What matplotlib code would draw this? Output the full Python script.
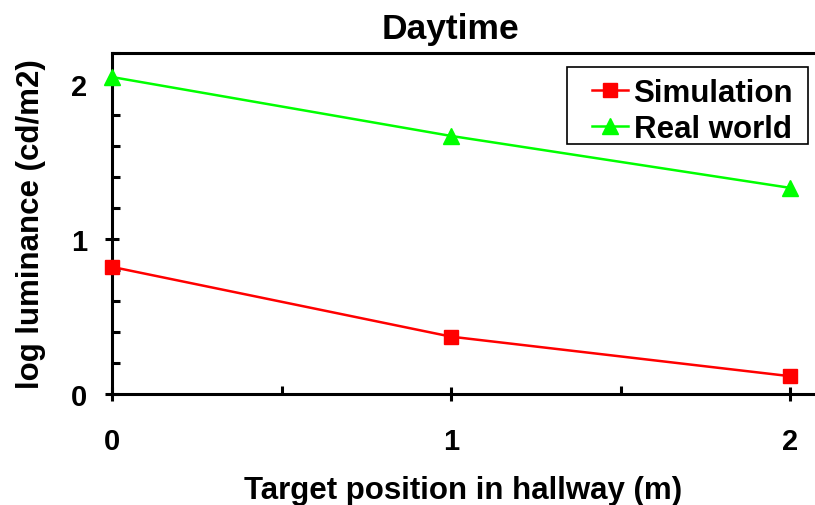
import matplotlib
matplotlib.use("Agg")
import matplotlib.pyplot as plt
from matplotlib.ticker import MultipleLocator
from matplotlib.patches import Rectangle

x_pos = [0, 1, 2]
simulation = [0.82, 0.37, 0.115]
real_world = [2.045, 1.665, 1.33]
x_ticks = [0, 1, 2]
y_ticks = [0, 1, 2]

plt.rcParams['font.family'] = ['Liberation Sans', 'DejaVu Sans']
plt.rcParams['font.weight'] = 'bold'

W, H = 815, 506
fig = plt.figure(figsize=(W/100, H/100), dpi=100)
ax = fig.add_axes([112/W, 111/H, 1 - 112/W, (395-54)/H])

ax.plot(x_pos, simulation, color='#ff0000', lw=1.8, marker='s', ms=10,
        label='Simulation', clip_on=False, zorder=3)
ax.plot(x_pos, real_world, color='#00ff00', lw=1.8, marker='^', ms=12,
        label='Real world', clip_on=False, zorder=3)

ax.set_xlim(0, (W-112)/339)
ax.set_ylim(0, 2.2)
ax.set_xticks(x_ticks)
ax.set_yticks(y_ticks)
ax.xaxis.set_minor_locator(MultipleLocator(0.5))
ax.yaxis.set_minor_locator(MultipleLocator(0.2))

for s in ['left', 'bottom', 'top']:
    ax.spines[s].set_linewidth(2.2)
ax.spines['right'].set_visible(False)

ax.tick_params(which='major', direction='inout', length=10, width=2.2,
               labelsize=21, top=False, right=False)
ax.tick_params(axis='x', which='major', pad=19)
ax.tick_params(axis='y', which='major', pad=13)
ax.tick_params(which='minor', direction='in', length=6, width=2.2,
               top=False, right=False)

ax.set_title('Daytime', fontsize=25.5, fontweight='bold', pad=11,
             x=(450-112)/(W-112))
ax.set_xlabel('Target position in hallway (m)', fontsize=22.5, fontweight='bold', labelpad=14)
ax.set_ylabel('log luminance (cd/m2)', fontsize=22.5, fontweight='bold', labelpad=18)

# legend frame
frame = Rectangle((567/W, 1-145/H), 241/W, 77/H, transform=fig.transFigure,
                  facecolor='white', edgecolor='black', lw=1.2, zorder=4,
                  clip_on=False)
ax.add_patch(frame)
leg = ax.legend(loc='upper left', bbox_to_anchor=(592/W, 1-79/H),
                bbox_transform=fig.transFigure, frameon=False,
                fontsize=22.5, handlelength=1.15, borderpad=0, borderaxespad=0,
                labelspacing=0.2, handletextpad=0.18)
leg.set_zorder(5)

fig.savefig('out.png', dpi=100)
